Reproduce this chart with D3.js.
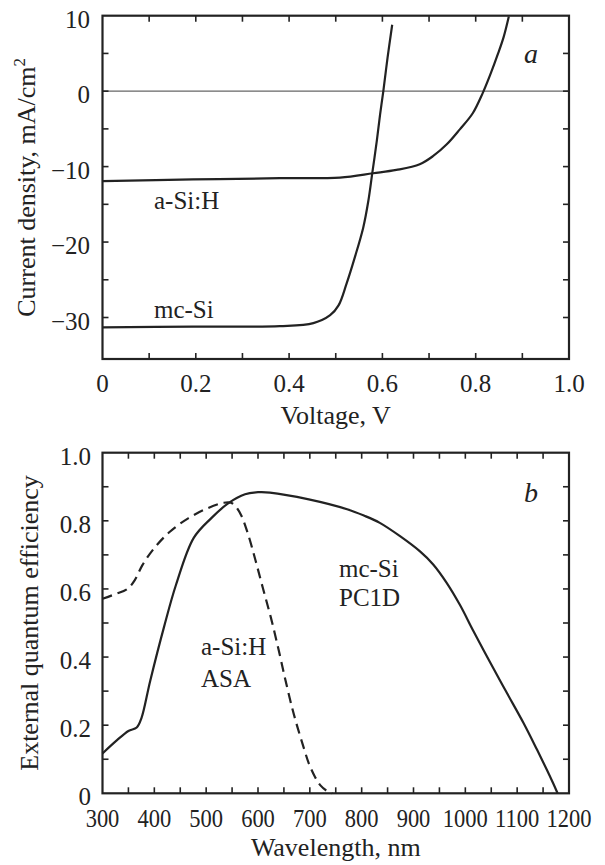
<!DOCTYPE html>
<html><head><meta charset="utf-8">
<script src="https://cdn.jsdelivr.net/npm/d3@7"></script>
<style>
html,body{margin:0;padding:0;background:#fff;}
</style></head>
<body>
<svg id="c" width="605" height="865" font-family="'Liberation Serif', 'Times New Roman', serif" fill="#222"></svg>
<script>
// ---- Panel a data (Voltage V, Current density mA/cm2)
const aSiJV = [[0,-11.93],[0.194,-11.7],[0.38,-11.54],[0.509,-11.45],[0.58,-10.88],[0.63,-10.44],[0.68,-9.69],[0.709,-8.59],[0.738,-7.05],[0.766,-5.07],[0.794,-2.9],[0.815,-0.26],[0.831,2.15],[0.848,5.0],[0.86,7.2],[0.871,9.9]];
const mcSiJV = [[0,-31.3],[0.194,-31.2],[0.38,-31.15],[0.452,-30.75],[0.488,-29.7],[0.506,-28.4],[0.523,-25.55],[0.541,-22.0],[0.559,-18.06],[0.57,-14.5],[0.578,-11.0],[0.588,-6.6],[0.595,-3.1],[0.602,0],[0.611,4.4],[0.621,8.8]];
const xTicksA = [0,0.2,0.4,0.6,0.8,1.0];
const yTicksA = [10,0,-10,-20,-30];
// ---- Panel b data (Wavelength nm, EQE)
const mcSiEQE = [[300,0.117],[328,0.156],[350,0.183],[366,0.193],[375,0.22],[392,0.33],[419,0.49],[442,0.613],[476,0.75],[510,0.808],[543,0.852],[575,0.878],[600,0.884],[623,0.883],[698,0.863],[772,0.834],[805,0.815],[835,0.794],[874,0.755],[912,0.711],[938,0.672],[964,0.618],[990,0.552],[1015,0.478],[1048,0.384],[1080,0.295],[1112,0.207],[1138,0.129],[1157,0.07],[1169,0.031],[1178,0.0]];
const aSiEQE = [[300,0.571],[325,0.585],[348,0.6],[362,0.625],[377,0.67],[400,0.72],[430,0.768],[466,0.808],[503,0.837],[534,0.853],[548,0.853],[558,0.84],[568,0.815],[581,0.76],[595,0.685],[609,0.605],[625,0.515],[640,0.42],[653,0.332],[666,0.25],[676,0.195],[688,0.135],[698,0.088],[710,0.048],[720,0.024],[732,0.008],[743,0.0]];
const xTicksB = [300,400,500,600,700,800,900,1000,1100,1200];
const yTicksB = [0,0.2,0.4,0.6,0.8,1.0];

const svg = d3.select("#c");
const INK = "#222";
const L = 102.5, R = 569;

function frame(g, x, y, xMinor, yMinor) {
  const [x0,x1] = x.range(), [y0,y1] = y.range();
  const t = 6;
  xMinor.forEach(v => {
    g.append("line").attr("x1",x(v)).attr("x2",x(v)).attr("y1",y0).attr("y2",y0-t).attr("stroke",INK).attr("stroke-width",1.6);
    g.append("line").attr("x1",x(v)).attr("x2",x(v)).attr("y1",y1).attr("y2",y1+t).attr("stroke",INK).attr("stroke-width",1.6);
  });
  yMinor.forEach(v => {
    g.append("line").attr("x1",x0).attr("x2",x0+t).attr("y1",y(v)).attr("y2",y(v)).attr("stroke",INK).attr("stroke-width",1.6);
    g.append("line").attr("x1",x1).attr("x2",x1-t).attr("y1",y(v)).attr("y2",y(v)).attr("stroke",INK).attr("stroke-width",1.6);
  });
  g.append("rect").attr("x",x0).attr("y",y1).attr("width",x1-x0).attr("height",y0-y1)
    .attr("fill","none").attr("stroke",INK).attr("stroke-width",2.2);
}

// ===== Panel a =====
const xa = d3.scaleLinear().domain([0,1]).range([L,R]);
const ya = d3.scaleLinear().domain([-35.5,10]).range([359,15.7]);
const ga = svg.append("g");
ga.append("line").attr("x1",L).attr("x2",R).attr("y1",ya(0)).attr("y2",ya(0)).attr("stroke","#666").attr("stroke-width",1.3);
frame(ga, xa, ya, d3.range(1,10).map(i=>i/10), [5,0,-5,-10,-15,-20,-25,-30]);
const lineA = d3.line().x(d=>xa(d[0])).y(d=>ya(d[1])).curve(d3.curveCatmullRom.alpha(0.5));
[aSiJV, mcSiJV].forEach(s => ga.append("path").attr("d",lineA(s)).attr("fill","none").attr("stroke",INK).attr("stroke-width",2.2));
xTicksA.forEach(v => ga.append("text").attr("x",xa(v)).attr("y",392).attr("text-anchor","middle").attr("font-size",25)
  .text(v===0?"0":v.toFixed(1)));
yTicksA.forEach(v => ga.append("text").attr("x",90).attr("y",ya(v)+12).attr("text-anchor","end").attr("font-size",25)
  .text(v<0?"\u2212"+Math.abs(v):String(v)));
ga.append("text").attr("x",(L+R)/2).attr("y",424).attr("text-anchor","middle").attr("font-size",26).text("Voltage, V");
const ta = ga.append("text").attr("transform",`translate(35,${(15.7+359)/2}) rotate(-90)`).attr("text-anchor","middle").attr("font-size",26);
ta.append("tspan").text("Current density, mA/cm");
ta.append("tspan").attr("font-size",17).attr("dy",-10).text("2");
ga.append("text").attr("x",531).attr("y",63).attr("text-anchor","middle").attr("font-size",28).attr("font-style","italic").text("a");
ga.append("text").attr("x",154).attr("y",209).attr("font-size",25).text("a-Si:H");
ga.append("text").attr("x",154).attr("y",318).attr("font-size",25).text("mc-Si");

// ===== Panel b =====
const xb = d3.scaleLinear().domain([300,1200]).range([L,R]);
const yb = d3.scaleLinear().domain([0,1]).range([793.3,452.7]);
const gb = svg.append("g");
frame(gb, xb, yb, d3.range(350,1200,50), d3.range(1,10).map(i=>i/10));
const lineB = d3.line().x(d=>xb(d[0])).y(d=>yb(d[1])).curve(d3.curveCatmullRom.alpha(0.5));
gb.append("path").attr("d",lineB(mcSiEQE)).attr("fill","none").attr("stroke",INK).attr("stroke-width",2.2);
gb.append("path").attr("d",lineB(aSiEQE)).attr("fill","none").attr("stroke",INK).attr("stroke-width",2.2).attr("stroke-dasharray","10,6");
xTicksB.forEach(v => gb.append("text").attr("transform",`translate(${xb(v)},827) scale(0.9,1)`).attr("text-anchor","middle").attr("font-size",25).text(v));
yTicksB.forEach(v => gb.append("text").attr("x",91).attr("y",yb(v)+12).attr("text-anchor","end").attr("font-size",25)
  .text(v===0?"0":v.toFixed(1)));
gb.append("text").attr("x",(L+R)/2).attr("y",856).attr("text-anchor","middle").attr("font-size",26).text("Wavelength, nm");
gb.append("text").attr("transform",`translate(38,${(452.7+793.3)/2}) rotate(-90)`).attr("text-anchor","middle").attr("font-size",26).text("External quantum efficiency");
gb.append("text").attr("x",531).attr("y",502).attr("text-anchor","middle").attr("font-size",28).attr("font-style","italic").text("b");
gb.append("text").attr("x",339).attr("y",577).attr("font-size",25).text("mc-Si");
gb.append("text").attr("x",339).attr("y",606).attr("font-size",25).text("PC1D");
gb.append("text").attr("x",201).attr("y",655).attr("font-size",25).text("a-Si:H");
gb.append("text").attr("x",201).attr("y",687).attr("font-size",25).text("ASA");
</script>
</body></html>
